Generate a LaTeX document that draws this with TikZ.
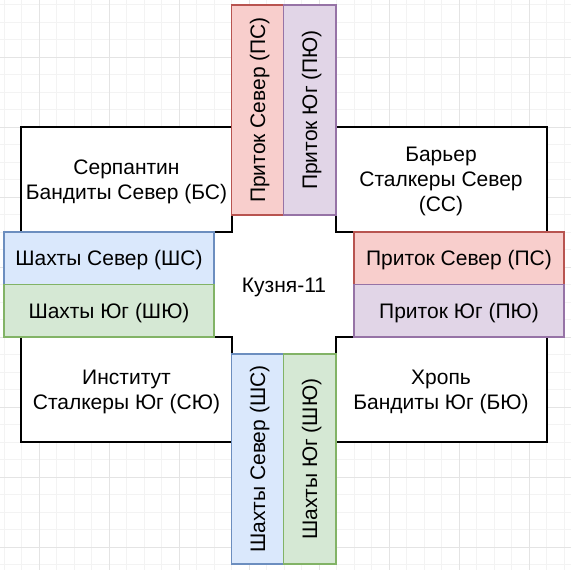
\documentclass[tikz,border=0pt]{standalone}
\usepackage{fontspec}
\setmainfont{Liberation Sans}
\definecolor{redfill}{HTML}{F8CECC}\definecolor{redline}{HTML}{B85450}
\definecolor{purfill}{HTML}{E1D5E7}\definecolor{purline}{HTML}{9673A6}
\definecolor{blufill}{HTML}{DAE8FC}\definecolor{bluline}{HTML}{6C8EBF}
\definecolor{grnfill}{HTML}{D5E8D4}\definecolor{grnline}{HTML}{82B366}
\definecolor{gridminor}{HTML}{F3F3F3}\definecolor{gridmajor}{HTML}{E4E4E4}
\tikzset{
  base/.style={inner sep=0pt, align=center, text depth=0pt, font=\fontsize{21}{25.2}\selectfont},
  zone/.style={base, draw=black, fill=white, line width=2pt, minimum width=211pt, minimum height=105pt},
  bar/.style={base, line width=1.5pt, minimum width=210pt, minimum height=52.5pt},
  pbarS/.style={bar, draw=redline, fill=redfill},
  pbarY/.style={bar, draw=purline, fill=purfill},
  sbarS/.style={bar, draw=bluline, fill=blufill},
  sbarY/.style={bar, draw=grnline, fill=grnfill},
  vert/.style={rotate=90},
  minorline/.style={draw=gridminor, line width=1pt},
  majorline/.style={draw=gridmajor, line width=1pt}
}
\begin{document}
\begin{tikzpicture}[x=1pt,y=-1pt]
\useasboundingbox (0,0) rectangle (571,570);
% background grid
\foreach \i in {0,...,32} {
  \draw[minorline] ({4.3+17.5*\i},0) -- ({4.3+17.5*\i},570);
  \draw[minorline] (0,{4.8+17.5*\i}) -- (571,{4.8+17.5*\i});
}
\foreach \i in {0,...,7} {
  \draw[majorline] ({39.3+70*\i},0) -- ({39.3+70*\i},570);
  \draw[majorline] (0,{57.3+70*\i}) -- (571,{57.3+70*\i});
}
% central white area
\fill[white] (214,215) rectangle (354,354);
% zones
\node[zone] (bs) at (126.5,179.5) {Серпантин\\Бандиты Север (БС)};
\node[zone] (cc) at (441,179.5) {Барьер\\Сталкеры Север\\(СС)};
\node[zone] (cu) at (126.5,389.5) {Институт\\Сталкеры Юг (СЮ)};
\node[zone] (bu) at (441,389.5) {Хропь\\Бандиты Юг (БЮ)};
\node[base] (k) at (284,285) {Кузня-11};
% top bars
\node[pbarS, vert] (tps) at (257.5,110) {Приток Север (ПС)};
\node[pbarY, vert] (tpu) at (309.5,110) {Приток Юг (ПЮ)};
% right bars
\node[pbarS] (rps) at (459,258) {Приток Север (ПС)};
\node[pbarY] (rpu) at (459,310.5) {Приток Юг (ПЮ)};
% left bars
\node[sbarS] (lss) at (109,258) {Шахты Север (ШС)};
\node[sbarY] (lsu) at (109,310.5) {Шахты Юг (ШЮ)};
% bottom bars
\node[sbarS, vert] (bss) at (257.5,459) {Шахты Север (ШС)};
\node[sbarY, vert] (bsu) at (309.5,459) {Шахты Юг (ШЮ)};
\end{tikzpicture}
\end{document}
